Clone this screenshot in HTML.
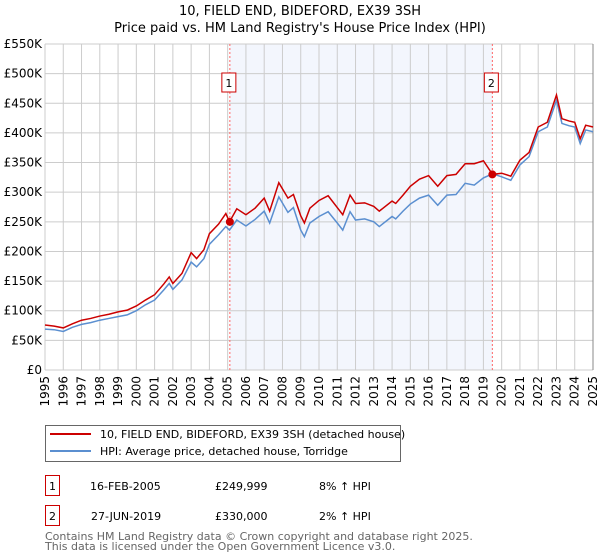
<!DOCTYPE html>
<html><head><meta charset="utf-8"><style>
body{margin:0;background:#fff;font-family:"DejaVu Sans","Liberation Sans",sans-serif}
svg{display:block}
</style></head><body>
<svg width="600" height="560" xmlns="http://www.w3.org/2000/svg" font-family="DejaVu Sans, Liberation Sans, sans-serif">
<text x="300" y="15" text-anchor="middle" font-size="13">10, FIELD END, BIDEFORD, EX39 3SH</text>
<text x="300" y="32" text-anchor="middle" font-size="13">Price paid vs. HM Land Registry's House Price Index (HPI)</text>
<g id="plot"></g>
<g>
<rect x="45.5" y="425.5" width="355" height="36" fill="#fff" stroke="#666"/>
<line x1="50" y1="434" x2="91" y2="434" stroke="#cc0000" stroke-width="2"/>
<text x="100" y="438" font-size="11">10, FIELD END, BIDEFORD, EX39 3SH (detached house)</text>
<line x1="50" y1="451" x2="91" y2="451" stroke="#5b8fd0" stroke-width="2"/>
<text x="100" y="455" font-size="11">HPI: Average price, detached house, Torridge</text>
</g>
<g font-size="11">
<rect x="45.5" y="475.5" width="14" height="20" fill="none" stroke="#cc0000"/>
<text x="52.5" y="490" text-anchor="middle">1</text>
<text x="90" y="490">16-FEB-2005</text>
<text x="215" y="490">£249,999</text>
<text x="319" y="490">8% ↑ HPI</text>
<rect x="45.5" y="505.5" width="14" height="20" fill="none" stroke="#cc0000"/>
<text x="52.5" y="520" text-anchor="middle">2</text>
<text x="91" y="520">27-JUN-2019</text>
<text x="215" y="520">£330,000</text>
<text x="319" y="520">2% ↑ HPI</text>
</g>
<text x="45" y="540" font-size="11" fill="#666">Contains HM Land Registry data © Crown copyright and database right 2025.</text>
<text x="45" y="550" font-size="11" fill="#666">This data is licensed under the Open Government Licence v3.0.</text>
</svg>
<script>
const dates=[1995,1995.5,1996,1996.5,1997,1997.5,1998,1998.5,1999,1999.5,2000,2000.5,2001,2001.5,2001.8,2002,2002.5,2003,2003.3,2003.7,2004,2004.5,2004.9,2005.1,2005.5,2006,2006.5,2007,2007.3,2007.8,2008.3,2008.6,2009,2009.2,2009.5,2010,2010.5,2011,2011.3,2011.7,2012,2012.5,2013,2013.3,2014,2014.2,2014.6,2015,2015.5,2016,2016.5,2017,2017.5,2018,2018.5,2019,2019.5,2020,2020.5,2021,2021.5,2022,2022.5,2023,2023.3,2023.7,2024,2024.3,2024.6,2025];
const hpiValues=[69,68,65,72,77,80,84,87,90,93,100,110,118,135,146,136,152,182,174,188,212,228,242,236,253,243,254,268,248,292,266,274,236,225,248,259,267,248,236,267,253,255,250,242,259,255,268,280,290,295,278,295,296,315,312,324,331,326,320,346,360,402,410,455,416,412,410,382,405,402];
const priceValues=[76,74,71,78,84,87,91,94,98,101,108,118,127,145,157,146,163,198,188,203,230,246,264,250,272,262,273,290,268,316,290,296,260,248,273,286,294,274,262,295,281,282,276,268,285,281,295,310,322,328,310,328,330,348,348,353,330,332,327,354,367,410,418,464,424,420,418,390,413,410];
const saleDates=[2005.12,2019.49];
const salePrices=[250,330];
const yTicks=[0,50,100,150,200,250,300,350,400,450,500,550];
const yTickLabels=["£0","£50K","£100K","£150K","£200K","£250K","£300K","£350K","£400K","£450K","£500K","£550K"];
const xYears=[1995,1996,1997,1998,1999,2000,2001,2002,2003,2004,2005,2006,2007,2008,2009,2010,2011,2012,2013,2014,2015,2016,2017,2018,2019,2020,2021,2022,2023,2024,2025];

const X0=45,X1=593,Y0=370,Y1=44;
const xs=t=>X0+(t-1995)/30*(X1-X0);
const ys=v=>Y0-v/550*(Y0-Y1);
const NS="http://www.w3.org/2000/svg";
const plot=document.getElementById('plot');
function mk(tag,attrs,parent){const e=document.createElementNS(NS,tag);for(const k in attrs)e.setAttribute(k,attrs[k]);(parent||plot).appendChild(e);return e;}

const shade=mk('rect',{x:xs(saleDates[0]),y:Y1,width:xs(saleDates[1])-xs(saleDates[0]),height:Y0-Y1,fill:'#f3f6fd'});



yTicks.forEach((v,i)=>{
  const l=mk('line',{x1:X0,x2:X1,y1:ys(v),y2:ys(v),stroke:'#ccc','stroke-width':1});
  
  
  const t=mk('text',{x:X0-3,y:ys(v)+4,'text-anchor':'end','font-size':12});
  t.textContent=yTickLabels[i];
  
  
});
xYears.forEach(yr=>{
  const l=mk('line',{x1:xs(yr),x2:xs(yr),y1:Y1,y2:Y0,stroke:'#ccc','stroke-width':1});
  
  
  const t=mk('text',{x:0,y:0,'text-anchor':'end','font-size':12,transform:`translate(${xs(yr)+4},${Y0+6}) rotate(-90)`});
  t.textContent=yr;
  
  
});
const rEdge=mk('line',{x1:X1,x2:X1,y1:Y1,y2:Y0,stroke:'#888','stroke-width':1});



saleDates.forEach((d,i)=>{
  const l=mk('line',{x1:xs(d),x2:xs(d),y1:Y1,y2:Y0,stroke:'#ff6666','stroke-width':1,'stroke-dasharray':'2,2'});
  
  
  const b=mk('rect',{x:xs(d)-8,y:73,width:14,height:19,fill:'#fff',stroke:'#cc0000'});
  
  
  const t=mk('text',{x:xs(d)-1,y:87,'text-anchor':'middle','font-size':11});
  t.textContent=String(i+1);
  
  
});

const hpiLine=mk('polyline',{points:dates.map((d,i)=>xs(d)+','+ys(hpiValues[i])).join(' '),fill:'none',stroke:'#5b8fd0','stroke-width':1.5});


const priceLine=mk('polyline',{points:dates.map((d,i)=>xs(d)+','+ys(priceValues[i])).join(' '),fill:'none',stroke:'#cc0000','stroke-width':1.5});


saleDates.forEach((d,i)=>{
  const c=mk('circle',{cx:xs(d),cy:ys(salePrices[i]),r:4,fill:'#cc0000'});
  
  
});
</script>
</body></html>
